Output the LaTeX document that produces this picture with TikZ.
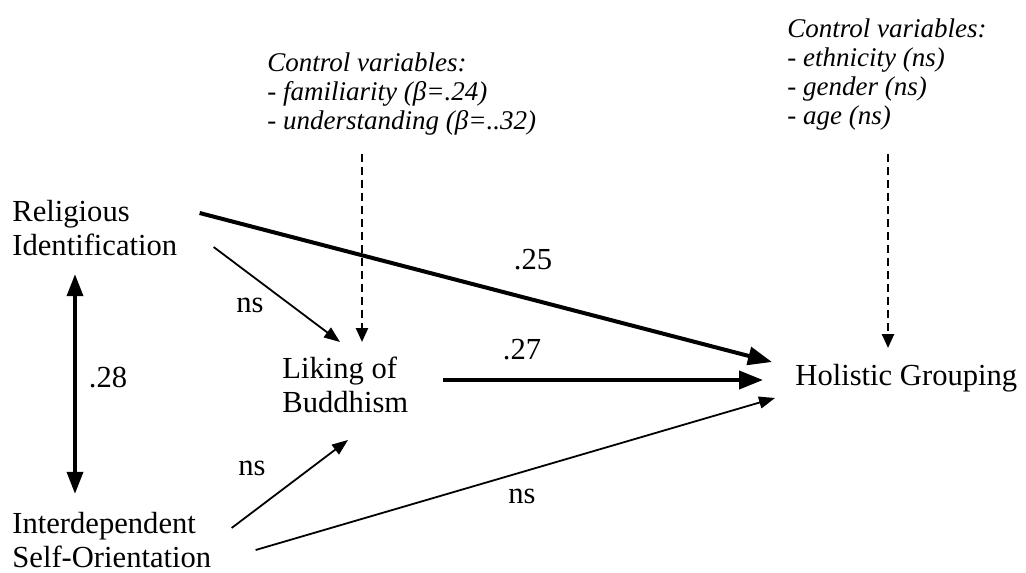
\documentclass[tikz,border=0pt]{standalone}
\usepackage{fontspec}
\setmainfont{Liberation Serif}
\usetikzlibrary{arrows.meta,calc}
\definecolor{pathInk}{HTML}{000000}

\begin{document}
\begin{tikzpicture}[
        x=0.5pt, y=-0.5pt,
        var/.style={
            inner sep=0pt,
            anchor=west,
            align=left,
            font=\fontsize{15.3}{17}\selectfont
        },
        ctrl/.style={
            inner sep=0pt,
            anchor=west,
            align=left,
            font=\fontsize{13.5}{14.5}\selectfont\itshape
        },
        coef/.style={
            inner sep=0pt,
            font=\fontsize{15.3}{17}\selectfont
        },
        strong/.style={
            -{Triangle[length=12pt,width=9pt]},
            line width=2pt,
            draw=pathInk
        },
        weak/.style={
            -{Triangle[length=8pt,width=6pt]},
            line width=0.9pt,
            draw=pathInk
        },
        ctrlarrow/.style={
            -{Triangle[length=7pt,width=6pt]},
            line width=1.2pt,
            dash pattern=on 4pt off 2.5pt,
            draw=pathInk
        }
    ]

    \useasboundingbox (0,0) rectangle (1026,572);

    \node[var] (reli) at (12,228) {Religious\\Identification};
    \node[var] (inter) at (12,540) {Interdependent\\Self-Orientation};
    \node[var] (liking) at (282,385) {Liking of\\Buddhism};
    \node[var] (holistic) at (795,378) {Holistic Grouping};

    \node[ctrl] (ctrlA) at (267,94)
        {Control variables:\\- familiarity (β=.24)\\- understanding (β=..32)};
    \node[ctrl] (ctrlB) at (787,75)
        {Control variables:\\- ethnicity (ns)\\- gender (ns)\\- age (ns)};

    % paths
    \draw[strong] ($(reli.east)+(22,-15)$) -- ($(holistic.west)+(-23,-16)$);
    \draw[strong] ($(liking.east)+(34,-5)$) -- ($(holistic.west)+(-32,2)$);
    \draw[weak] ($(reli.east)+(36,19)$) -- ($(liking.west)+(58,-43)$);
    \draw[weak] ($(inter.east)+(20,-12)$) -- ($(liking.west)+(66,55)$);
    \draw[weak] ($(inter.east)+(44,10)$) -- ($(holistic.west)+(-20,20)$);
    \draw[{Triangle[length=11pt,width=8pt]}-{Triangle[length=11pt,width=8pt]}, line width=1.8pt]
        ($(reli.south west)+(63,18)$) -- ($(inter.north west)+(63,-18)$);

    \draw[ctrlarrow] ($(ctrlA.south west)+(95,18)$) -- ($(liking.west)+(80,-43)$);
    \draw[ctrlarrow] ($(ctrlB.south west)+(101,23)$) -- ($(holistic.west)+(93,-30)$);

    \node[coef] (c25) at (533,260) {.25};
    \node[coef] (c27) at (522,350) {.27};
    \node[coef] (c28) at (108,378) {.28};
    \node[coef] (nsA) at (250,305) {ns};
    \node[coef] (nsB) at (252,468) {ns};
    \node[coef] (nsC) at (522,496) {ns};

\end{tikzpicture}
\end{document}
